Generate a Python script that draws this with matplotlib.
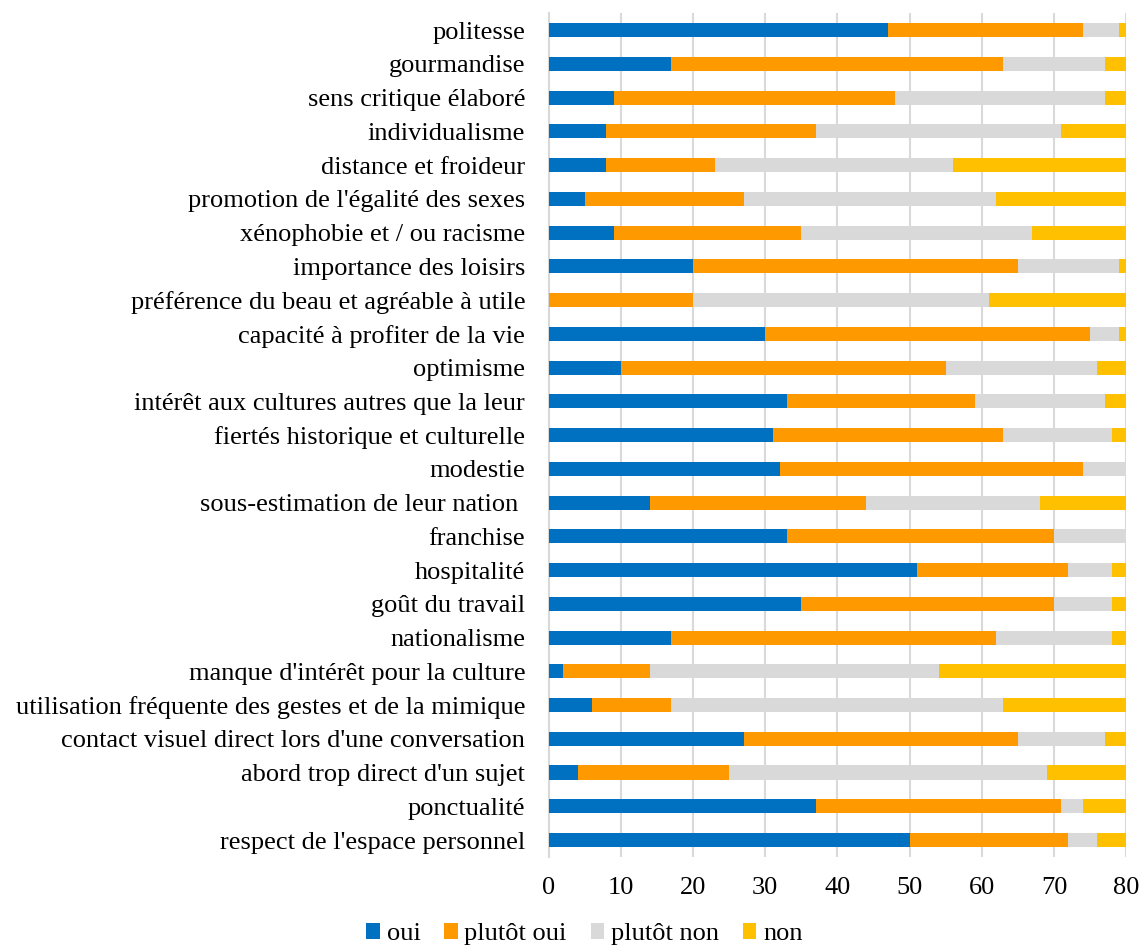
import matplotlib
matplotlib.use("Agg")
import matplotlib.pyplot as plt
import numpy as np

categories = [
    "politesse",
    "gourmandise",
    "sens critique élaboré",
    "individualisme",
    "distance et froideur",
    "promotion de l'égalité des sexes",
    "xénophobie et / ou racisme",
    "importance des loisirs",
    "préférence du beau et agréable à utile",
    "capacité à profiter de la vie",
    "optimisme",
    "intérêt aux cultures autres que la leur",
    "fiertés historique et culturelle",
    "modestie",
    "sous-estimation de leur nation ",
    "franchise",
    "hospitalité",
    "goût du travail",
    "nationalisme",
    "manque d'intérêt pour la culture",
    "utilisation fréquente des gestes et de la mimique",
    "contact visuel direct lors d'une conversation",
    "abord trop direct d'un sujet",
    "ponctualité",
    "respect de l'espace personnel",
]

oui = [47, 17, 9, 8, 8, 5, 9, 20, 0, 30, 10, 33, 31, 32, 14, 33, 51, 35, 17, 2, 6, 27, 4, 37, 50]
plutot_oui = [27, 46, 39, 29, 15, 22, 26, 45, 20, 45, 45, 26, 32, 42, 30, 37, 21, 35, 45, 12, 11, 38, 21, 34, 22]
plutot_non = [5, 14, 29, 34, 33, 35, 32, 14, 41, 4, 21, 18, 15, 6, 24, 10, 6, 8, 16, 40, 46, 12, 44, 3, 4]
non = [1, 3, 3, 9, 24, 18, 13, 1, 19, 1, 4, 3, 2, 0, 12, 0, 2, 2, 2, 26, 17, 3, 11, 6, 4]

series_names = ["oui", "plutôt oui", "plutôt non", "non"]
colors = ["#0070C0", "#FF9900", "#D9D9D9", "#FFC000"]

plt.rcParams['font.family'] = ['Liberation Serif', 'DejaVu Serif']

fig = plt.figure(figsize=(11.48, 9.49), dpi=100)
ax = fig.add_axes([0.478, 0.097, 0.503, 0.889])

y = np.arange(len(categories))
left = np.zeros(len(categories))
for name, vals, c in zip(series_names, [oui, plutot_oui, plutot_non, non], colors):
    ax.barh(y, vals, left=left, height=0.42, color=c, label=name, zorder=3)
    left += np.array(vals)

ax.set_yticks(y)
ax.set_yticklabels(categories)
ax.set_ylim(len(categories) - 0.5, -0.5)
ax.set_xlim(0, 80)
ax.set_xticks(range(0, 81, 10))
ax.tick_params(axis='both', length=0, labelsize=19, colors='#000000')
ax.tick_params(axis='x', pad=14.5)
ax.tick_params(axis='y', pad=17)

ax.grid(axis='x', color='#D9D9D9', linewidth=1.5, zorder=0)
for s in ['top', 'right', 'bottom']:
    ax.spines[s].set_visible(False)
ax.spines['left'].set_color('#D9D9D9')
ax.spines['left'].set_linewidth(1.5)

fig.legend(loc='lower center', bbox_to_anchor=(0.509, -0.021), ncol=4, frameon=False,
           fontsize=19, handlelength=0.52, handleheight=0.52, handletextpad=0.25,
           columnspacing=0.9)

fig.savefig("out.png", dpi=100)
